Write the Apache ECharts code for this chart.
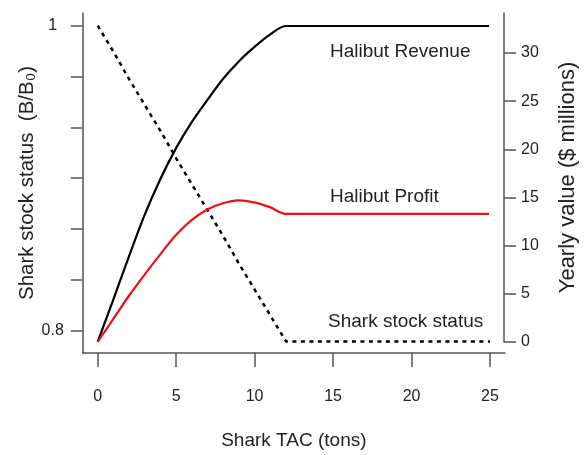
<!DOCTYPE html>
<html>
<head>
<meta charset="utf-8">
<script src="https://cdn.jsdelivr.net/npm/echarts@6/dist/echarts.min.js"></script>
<style>
html,body{margin:0;padding:0;background:#fff;}
#chart{width:587px;height:455px;}
</style>
</head>
<body>
<div id="chart"></div>
<script>
// ---- data ----
const tac = [0,1,2,3,4,5,6,7,8,9,10,11,12,13,14,15,16,17,18,19,20,21,22,23,24,25];
const sharkStatus = [1.000,0.983,0.965,0.948,0.931,0.913,0.896,0.879,0.862,0.844,0.827,0.810,0.793,
  0.793,0.793,0.793,0.793,0.793,0.793,0.793,0.793,0.793,0.793,0.793,0.793,0.793];
const halibutRevenue = [0,4.4,8.9,13.2,16.9,20.1,22.8,25.1,27.3,29.1,30.6,31.9,32.8,
  32.8,32.8,32.8,32.8,32.8,32.8,32.8,32.8,32.8,32.8,32.8,32.8,32.8];
const halibutProfit = [0,2.4,4.8,7.0,9.1,11.1,12.65,13.75,14.4,14.7,14.5,14.0,13.3,
  13.3,13.3,13.3,13.3,13.3,13.3,13.3,13.3,13.3,13.3,13.3,13.3,13.3];
const xTicks = [0,5,10,15,20,25];
const leftTicks = [0.8,0.8333,0.8667,0.9,0.9333,0.9667,1.0];
const leftLabels = [0.8,1];
const rightTicks = [0,5,10,15,20,25,30];

const FONT = '"Liberation Sans", Arial, sans-serif';
const AX = '#555';
const TXT = '#222';

function pairs(xs, ys){ return xs.map((x,i)=>[x, ys[i]]); }

const chart = echarts.init(document.getElementById('chart'), null, {renderer:'canvas'});
chart.setOption({
  animation:false,
  backgroundColor:'#fff',
  grid:[
    {left:82.7, right:82, top:13, bottom:102},
    {left:82.7, right:82, top:13, bottom:113}
  ],
  xAxis:[
    {gridIndex:0, type:'value', min:-0.956, max:25.956,
      axisLine:{show:true, onZero:false, lineStyle:{color:AX, width:1.5}},
      axisTick:{show:true, customValues:xTicks, length:14, lineStyle:{color:AX, width:1.5}},
      axisLabel:{customValues:xTicks, margin:36, color:TXT, fontSize:16, fontFamily:FONT},
      splitLine:{show:false},
      name:'Shark TAC (tons)', nameLocation:'middle', nameGap:78, nameMoveOverlap:false,
      nameTextStyle:{color:TXT, fontSize:19, fontFamily:FONT}
    },
    {gridIndex:1, type:'value', min:-0.956, max:25.956, show:false}
  ],
  yAxis:[
    {gridIndex:0, type:'value', position:'left', min:0.78538, max:1.00833,
      axisLine:{show:true, onZero:false, lineStyle:{color:AX, width:1.5}},
      axisTick:{show:true, customValues:leftTicks, length:12, lineStyle:{color:AX, width:1.5}},
      axisLabel:{customValues:leftLabels, margin:30, align:'center', color:TXT, fontSize:16, fontFamily:FONT,
        formatter:v=>String(v)},
      splitLine:{show:false},
      name:'Shark stock status  (B/B\u2080)', nameLocation:'middle', nameGap:45, nameRotate:90, nameMoveOverlap:false,
      nameTextStyle:{color:TXT, fontSize:20.5, fontFamily:FONT}
    },
    {gridIndex:1, type:'value', position:'right', min:0, max:34.15,
      axisLine:{show:true, onZero:false, lineStyle:{color:AX, width:1.5}},
      axisTick:{show:true, customValues:rightTicks, length:12, lineStyle:{color:AX, width:1.5}},
      axisLabel:{customValues:rightTicks, margin:17, color:TXT, fontSize:16, fontFamily:FONT},
      splitLine:{show:false},
      name:'Yearly value ($ millions)', nameLocation:'middle', nameGap:53, nameRotate:90, nameMoveOverlap:false,
      nameTextStyle:{color:TXT, fontSize:22, fontFamily:FONT}
    }
  ],
  series:[
    {type:'line', xAxisIndex:0, yAxisIndex:0, data:pairs(tac, sharkStatus), showSymbol:false, symbol:'none',
      clip:false, lineStyle:{color:'#000', width:2.5, type:[4,4.5]}},
    {type:'line', xAxisIndex:1, yAxisIndex:1, data:pairs(tac, halibutRevenue), showSymbol:false, symbol:'none',
      clip:false, smooth:0.3, lineStyle:{color:'#000', width:2.2}},
    {type:'line', xAxisIndex:1, yAxisIndex:1, data:pairs(tac, halibutProfit), showSymbol:false, symbol:'none',
      clip:false, smooth:0.3, lineStyle:{color:'#ee1111', width:2.2}}
  ],
  graphic:[
    {type:'text', x:330, y:52, style:{text:'Halibut Revenue', fill:TXT, font:'19px '+FONT, verticalAlign:'middle'}},
    {type:'text', x:330, y:197, style:{text:'Halibut Profit', fill:TXT, font:'19px '+FONT, verticalAlign:'middle'}},
    {type:'text', x:328, y:322, style:{text:'Shark stock status', fill:TXT, font:'19px '+FONT, verticalAlign:'middle'}}
  ]
});
</script>
</body>
</html>
